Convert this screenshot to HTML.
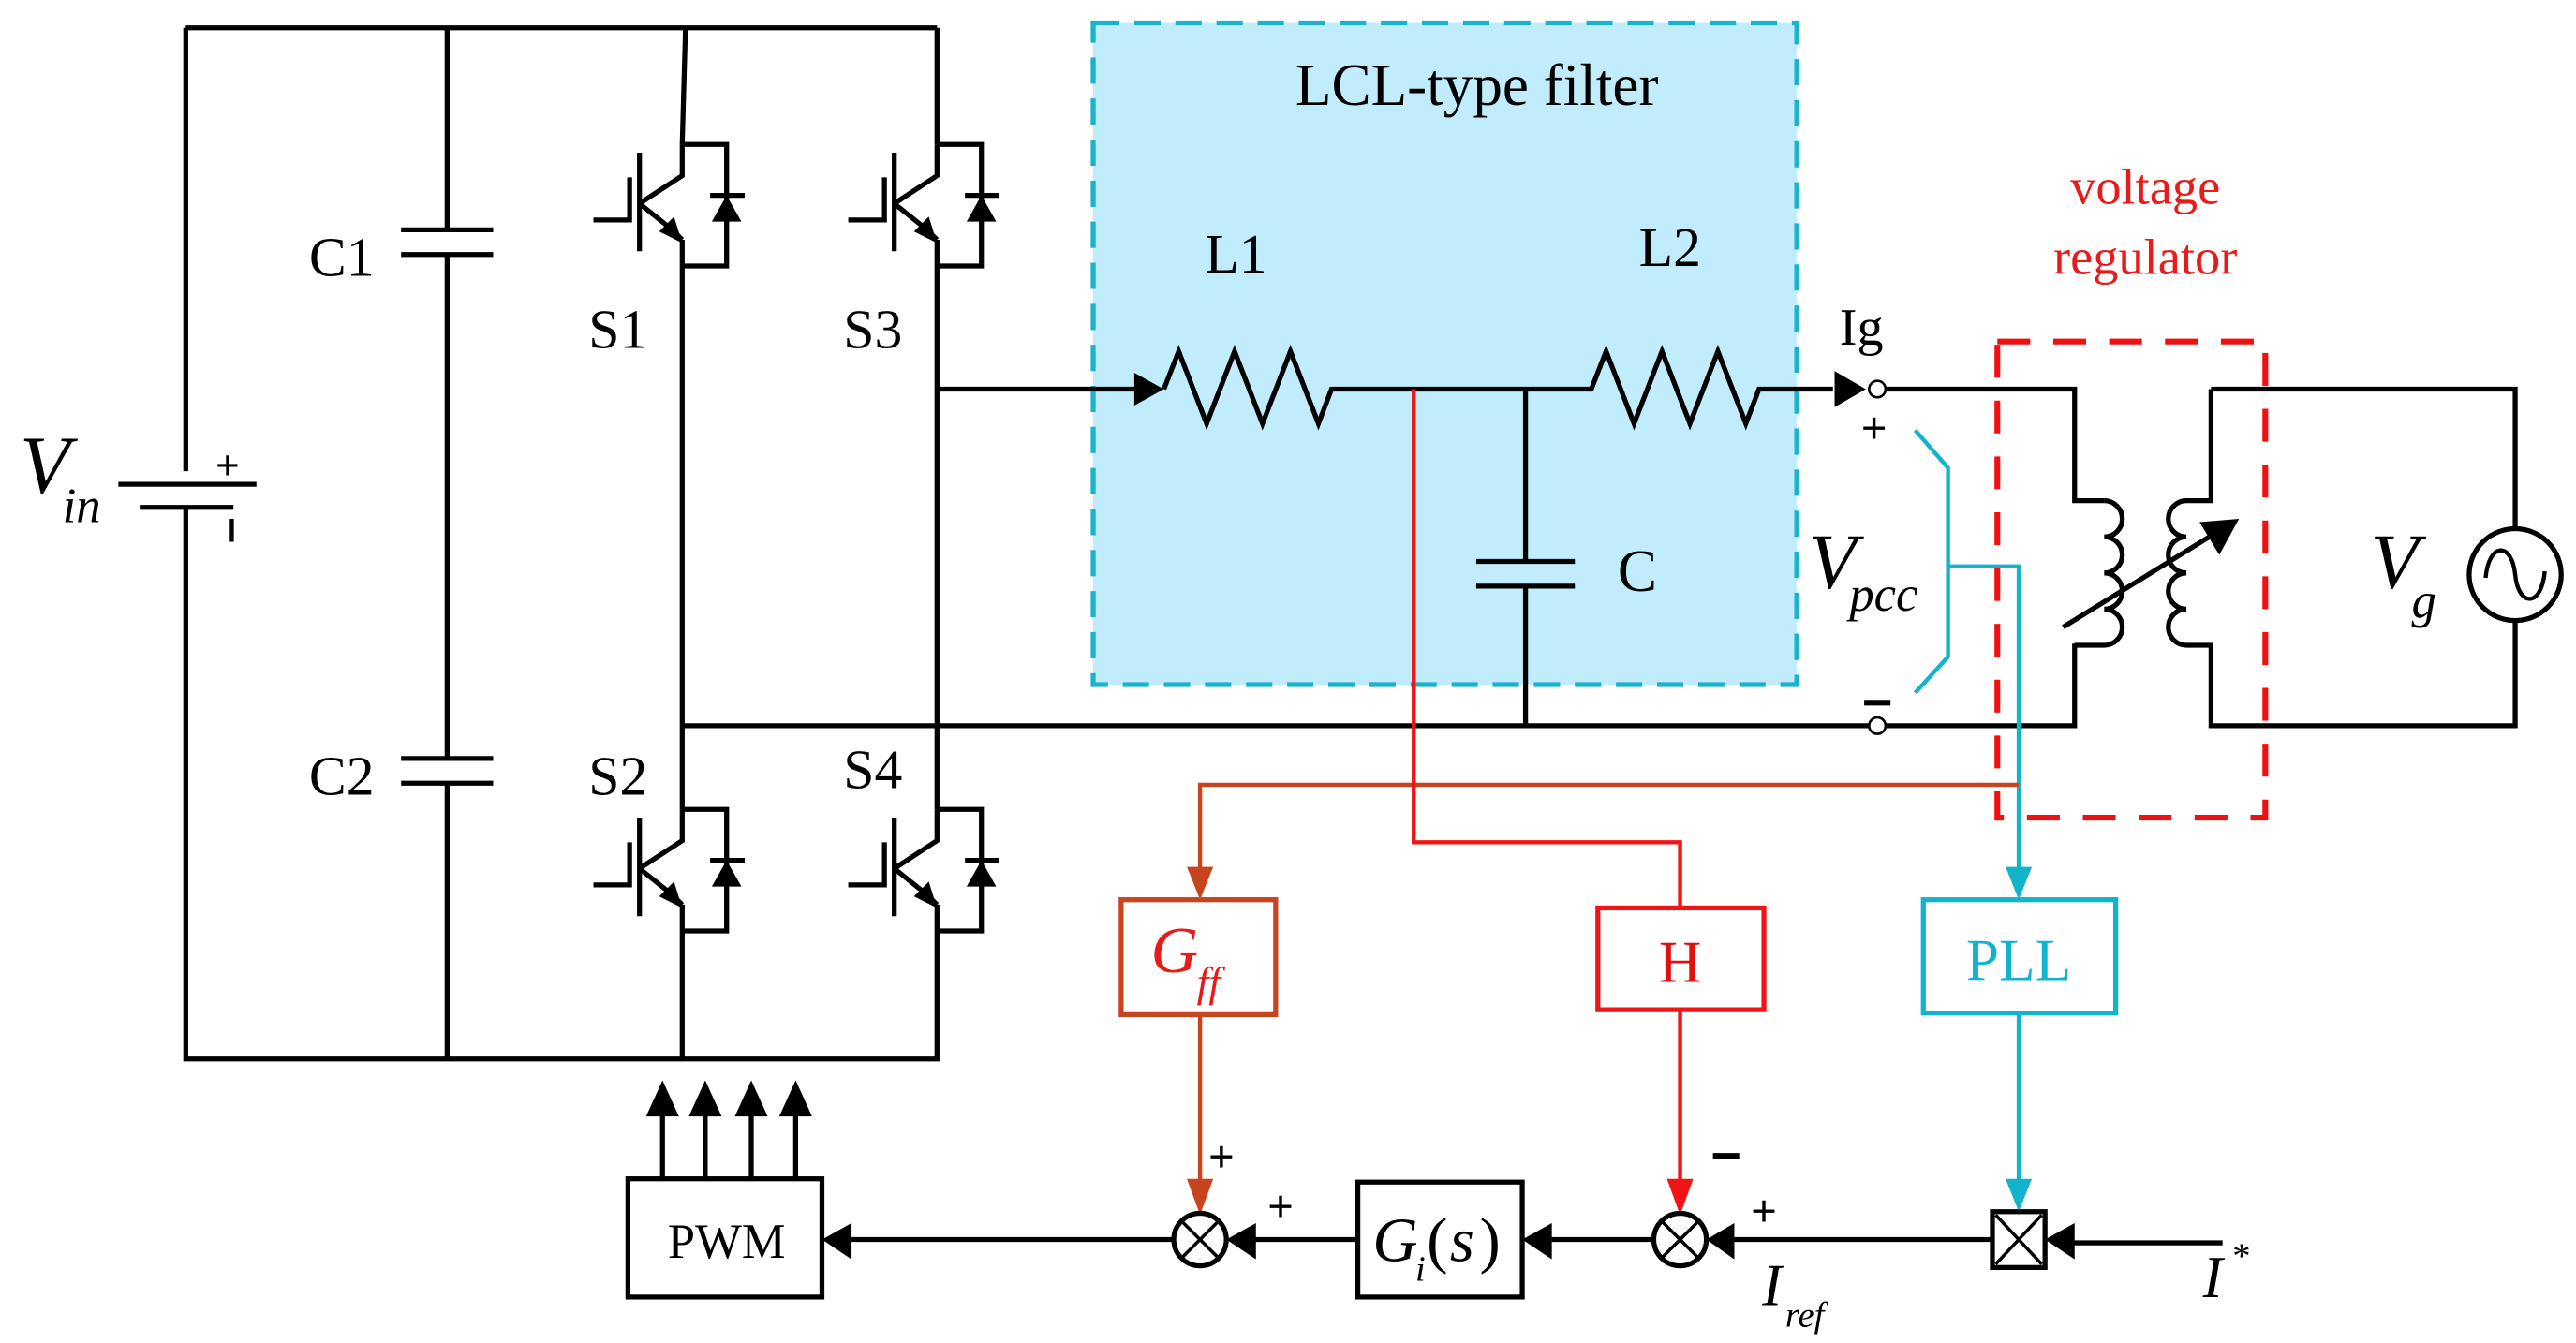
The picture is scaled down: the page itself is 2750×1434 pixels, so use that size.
<!DOCTYPE html>
<html><head><meta charset="utf-8"><style>
html,body{margin:0;padding:0;background:#fff;}
svg{display:block;}
text{font-family:"Liberation Serif",serif;}
</style></head><body>
<svg width="2750" height="1434" viewBox="0 0 1567 818" preserveAspectRatio="none" xmlns="http://www.w3.org/2000/svg">
<defs>
<g id="igbt" fill="none" stroke="#000" stroke-width="3">
  <path d="M0,0 V19 L-26,36 M-26,36 L-6,52 M0,58 V74 M0,0 H27 V74 H0"/>
  <path d="M-26,5 V65" />
  <path d="M-32,20 V46 H-54" />
  <path d="M17,31 H38" />
  <polygon points="27,31 18,47 36,47" fill="#000" stroke="none"/>
  <polygon points="0,60 -14,53 -5,44" fill="#000" stroke="none"/>
  <path d="M-8,50 L0,58"/>
</g>
</defs>

<rect x="665" y="14" width="428" height="403" fill="#c0ecfc" stroke="#1ab2cc" stroke-width="3" stroke-dasharray="16,9"/>
<text x="788" y="64" font-size="36">LCL-type filter</text>

<g fill="none" stroke="#000" stroke-width="3">
<path d="M113,17 H570 M113,17 V287 M113,310 V645 H570 V567 M570,17 V88 M570,162 V493"/>
<path d="M272,17 V140 M272,155 V462 M272,477 V645"/>
<path d="M417,17 L415,88 M415,162 V493 M415,567 V645"/>
<path d="M72,295 H156 M85,309 H142"/>
<path d="M244,140 H300 M244,155 H300 M244,462 H300 M244,477 H300"/>
<path d="M570,237 H695"/>
<path d="M415,442 H1137 M1147,442 H1262 V392"/>
<path d="M708,237 L717,214 L734,258 L751,214 L768,258 L785,214 L802,258 L810,237 H968 L977,214 L994,258 L1011,214 L1028,258 L1045,214 L1062,258 L1070,237 H1115"/>
<path d="M928,237 V342 M898,342 H958 M898,357 H958 M928,357 V442"/>
<path d="M1147,237 H1262 V305 H1280"/>
<path d="M1280,305 a11,11 0 0 1 0,22 a11,11 0 0 1 0,22 a11,11 0 0 1 0,22 a11,11 0 0 1 0,22 H1262"/>
<path d="M1345,237 V305 H1330 a11,11 0 0 0 0,22 a11,11 0 0 0 0,22 a11,11 0 0 0 0,22 a11,11 0 0 0 0,22 H1345 V442 H1530 V378 M1345,237 H1530 V322"/>
<circle cx="1530" cy="350" r="28"/>
<path d="M1512,352 C1514,330 1528,330 1530,350 C1532,370 1546,370 1548,348" stroke-width="2.5"/>
<path d="M1255,382 L1352,322"/>
</g>
<polygon points="1362,316 1338,318 1350,338" fill="#000"/>
<polygon points="708,237 690,227 690,247" fill="#000"/>
<polygon points="1135,237 1116,226 1116,248" fill="#000"/>
<circle cx="1142" cy="237" r="5" fill="#fff" stroke="#000" stroke-width="1.5"/>
<circle cx="1142" cy="442" r="5" fill="#fff" stroke="#000" stroke-width="1.5"/>

<use href="#igbt" x="415" y="88"/>
<use href="#igbt" x="570" y="88"/>
<use href="#igbt" x="415" y="493"/>
<use href="#igbt" x="570" y="493"/>

<text x="12" y="300" font-size="50" font-style="italic">V</text>
<text x="38" y="318" font-size="30" font-style="italic">in</text>
<text x="131" y="292" font-size="26" font-weight="bold" font-family="Liberation Sans">+</text>
<path d="M141,316 V330" stroke="#000" stroke-width="2.5"/>
<text x="188" y="168" font-size="34">C1</text>
<text x="188" y="484" font-size="34">C2</text>
<text x="358" y="212" font-size="34">S1</text>
<text x="513" y="212" font-size="34">S3</text>
<text x="358" y="484" font-size="34">S2</text>
<text x="513" y="480" font-size="34">S4</text>
<text x="733" y="166" font-size="34">L1</text>
<text x="997" y="162" font-size="34">L2</text>
<text x="984" y="360" font-size="36">C</text>
<text x="1119" y="210" font-size="32">Ig</text>
<text x="1132" y="270" font-size="28" font-weight="bold" font-family="Liberation Sans">+</text>
<path d="M1134,428 H1150" stroke="#000" stroke-width="3.5"/>
<text x="1100" y="358" font-size="48" font-style="italic">V</text>
<text x="1125" y="372" font-size="30" font-style="italic">pcc</text>
<text x="1442" y="358" font-size="48" font-style="italic">V</text>
<text x="1467" y="376" font-size="30" font-style="italic">g</text>
<text x="1305" y="124" font-size="31" fill="#e81a1a" text-anchor="middle">voltage</text>
<text x="1305" y="167" font-size="31" fill="#e81a1a" text-anchor="middle">regulator</text>

<rect x="1215" y="208" width="163" height="290" fill="none" stroke="#f01010" stroke-width="3.5" stroke-dasharray="20,14"/>

<g fill="none" stroke="#12b4cc" stroke-width="2.5">
<path d="M1165,262 L1185,285 V400 L1165,422"/>
<path d="M1185,345 H1228 V535"/>
<path d="M1228,617 V722"/>
<rect x="1170" y="548" width="117" height="69" stroke-width="3"/>
</g>
<polygon points="1228,548 1220,528 1236,528" fill="#12b4cc"/>
<polygon points="1228,738 1220,718 1236,718" fill="#12b4cc"/>
<text x="1228" y="597" font-size="36" fill="#12b4cc" text-anchor="middle">PLL</text>

<g fill="none" stroke="#c8441e" stroke-width="2.5">
<path d="M1228,478 H730 V532"/>
<path d="M730,618 V722"/>
<rect x="682" y="548" width="94" height="70" stroke-width="3"/>
</g>
<polygon points="730,548 722,528 738,528" fill="#c8441e"/>
<polygon points="730,740 722,718 738,718" fill="#c8441e"/>
<text x="700" y="592" font-size="40" fill="#e81a1a" font-style="italic">G</text>
<text x="728" y="607" font-size="26" fill="#e81a1a" font-style="italic">ff</text>

<g fill="none" stroke="#f01414" stroke-width="2.5">
<path d="M860,237 V513 H1022 V553"/>
<path d="M1022,615 V722"/>
<rect x="972" y="553" width="101" height="62" stroke-width="3"/>
</g>
<polygon points="1022,740 1014,718 1030,718" fill="#f01414"/>
<text x="1022" y="598" font-size="36" fill="#e01010" text-anchor="middle">H</text>

<g fill="none" stroke="#000" stroke-width="3">
<path d="M1352,757 H1258 M1212,755 H1050 M1006,755 H940 M826,755 H760 M714,755 H515"/>
<circle cx="730" cy="755" r="16"/>
<path d="M719,744 L741,766 M741,744 L719,766" stroke-width="2"/>
<circle cx="1022" cy="755" r="16"/>
<path d="M1011,744 L1033,766 M1033,744 L1011,766" stroke-width="2"/>
<rect x="1212" y="738" width="32" height="34"/>
<path d="M1214,740 L1242,770 M1242,740 L1214,770" stroke-width="2"/>
<rect x="826" y="720" width="100" height="70"/>
<rect x="382" y="718" width="118" height="72"/>
<path d="M403,718 V672 M429,718 V672 M457,718 V672 M484,718 V672"/>
</g>
<polygon points="1244,755 1262,745 1262,767" fill="#000"/>
<polygon points="1038,755 1055,745 1055,767" fill="#000"/>
<polygon points="926,755 944,745 944,767" fill="#000"/>
<polygon points="746,755 764,745 764,767" fill="#000"/>
<polygon points="500,755 518,745 518,767" fill="#000"/>
<polygon points="403,658 393,680 413,680" fill="#000"/>
<polygon points="429,658 419,680 439,680" fill="#000"/>
<polygon points="457,658 447,680 467,680" fill="#000"/>
<polygon points="484,658 474,680 494,680" fill="#000"/>
<text x="442" y="766" font-size="30" text-anchor="middle">PWM</text>
<text x="835" y="768" font-size="38" font-style="italic">G</text>
<text x="861" y="780" font-size="22" font-style="italic">i</text>
<text x="868" y="768" font-size="38">(</text>
<text x="882" y="768" font-size="38" font-style="italic">s</text>
<text x="900" y="768" font-size="38">)</text>
<text x="735" y="714" font-size="28" font-weight="bold" font-family="Liberation Sans">+</text>
<text x="771" y="744" font-size="28" font-weight="bold" font-family="Liberation Sans">+</text>
<path d="M1042,704 H1058" stroke="#000" stroke-width="3.5"/>
<text x="1065" y="747" font-size="28" font-weight="bold" font-family="Liberation Sans">+</text>
<text x="1072" y="795" font-size="36" font-style="italic">I</text>
<text x="1086" y="808" font-size="22" font-style="italic">ref</text>
<text x="1340" y="790" font-size="36" font-style="italic">I</text>
<text x="1358" y="772" font-size="22">*</text>
</svg>
</body></html>
